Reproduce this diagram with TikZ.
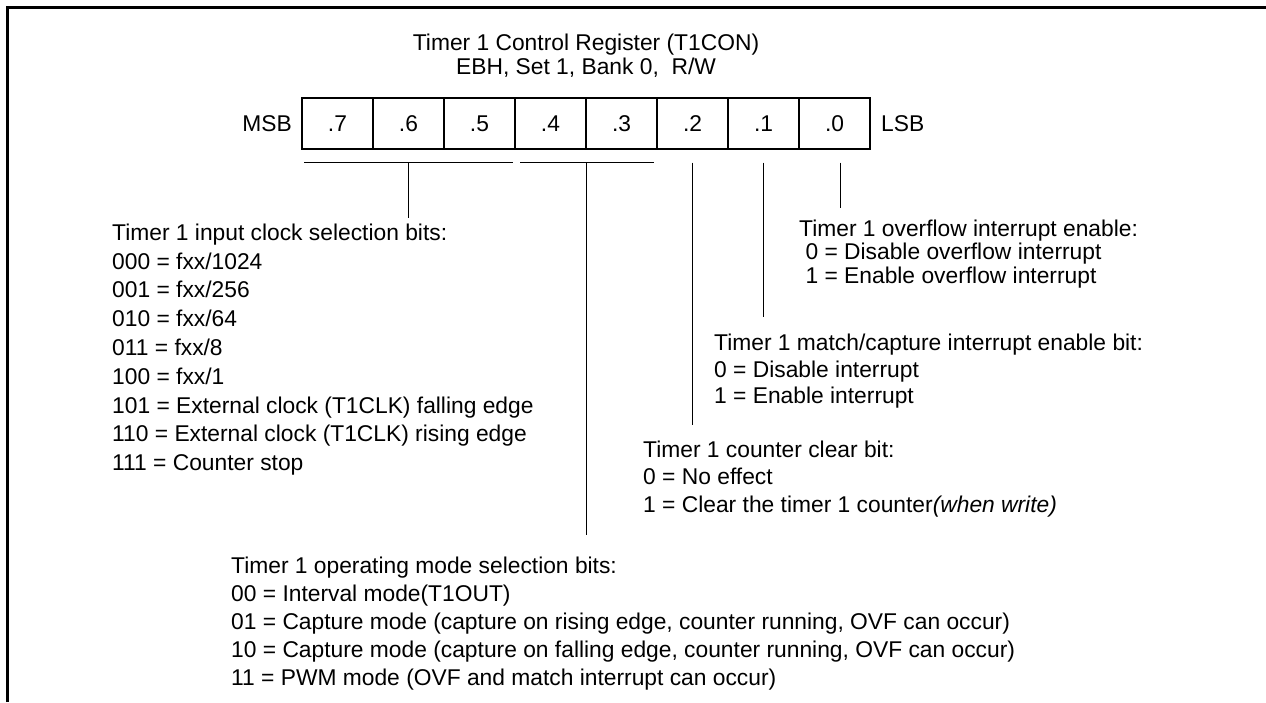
\documentclass[tikz,border=0pt]{standalone}
\usepackage{fontspec}
\setmainfont{Liberation Sans}
\usepackage{tikz}

\tikzset{
  txt/.style={anchor=north west, align=left, inner sep=0pt,
              font=\fontsize{22.8}{28.3}\selectfont},
  tight/.style={font=\fontsize{22.8}{23.5}\selectfont},
  cell/.style={draw, line width=1.3pt, minimum width=71pt, minimum height=51pt,
               inner sep=0pt, font=\fontsize{22.8}{23.5}\selectfont},
  lbl/.style={inner sep=0pt, font=\fontsize{22.8}{23.5}\selectfont},
  stem/.style={line width=1.3pt}
}

\begin{document}
\begin{tikzpicture}[x=1pt, y=-1pt]
    \useasboundingbox (0,0) rectangle (1266,702);

    % frame
    \draw[line width=3pt] (7,702) -- (7,7) -- (1266,7);

    % title
    \node[lbl, tight, align=center, anchor=north] (title) at (586,34)
        {Timer 1 Control Register (T1CON)\\EBH, Set 1, Bank 0,\ \ R/W};

    % register bits
    \node[cell] (b7) at (337.5,123.5) {.7};
    \node[cell] (b6) at (408.5,123.5) {.6};
    \node[cell] (b5) at (479.5,123.5) {.5};
    \node[cell] (b4) at (550.5,123.5) {.4};
    \node[cell] (b3) at (621.5,123.5) {.3};
    \node[cell] (b2) at (692.5,123.5) {.2};
    \node[cell] (b1) at (763.5,123.5) {.1};
    \node[cell] (b0) at (834.5,123.5) {.0};
    \node[lbl, anchor=east] (msb) at (292,124) {MSB};
    \node[lbl, anchor=west] (lsb) at (881,124) {LSB};

    % bit groups
    \coordinate (brk) at (0,162.5);
    \draw[stem] ([xshift=3pt]b7.west |- brk) -- ([xshift=-3pt]b5.east |- brk);
    \draw[stem] ([xshift=6pt]b4.west |- brk) -- ([xshift=-4pt]b3.east |- brk);

    % descriptions
    \node[txt, font=\fontsize{22.8}{28.8}\selectfont] (clk) at (112,223.5)
        {Timer 1 input clock selection bits:\\
        000 = fxx/1024\\
        001 = fxx/256\\
        010 = fxx/64\\
        011 = fxx/8\\
        100 = fxx/1\\
        101 = External clock (T1CLK) falling edge\\
        110 = External clock (T1CLK) rising edge\\
        111 = Counter stop};
    \node[txt, tight] (ovf) at (799,219.5) {Timer 1 overflow interrupt enable:\\
        \ 0 = Disable overflow interrupt\\
        \ 1 = Enable overflow interrupt};
    \node[txt, font=\fontsize{22.8}{26.8}\selectfont] (mcie) at (714,333.5)
        {Timer 1 match/capture interrupt enable bit:\\
        0 = Disable interrupt\\
        1 = Enable interrupt};
    \node[txt, font=\fontsize{22.8}{27.5}\selectfont] (clr) at (643,440.5)
        {Timer 1 counter clear bit:\\
        0 = No effect\\
        1 = Clear the timer 1 counter\textit{(when write)}};
    \node[txt, font=\fontsize{22.8}{28}\selectfont] (mode) at (231,556.5)
        {Timer 1 operating mode selection bits:\\
        00 = Interval mode(T1OUT)\\
        01 = Capture mode (capture on rising edge, counter running, OVF can occur)\\
        10 = Capture mode (capture on falling edge, counter running, OVF can occur)\\
        11 = PWM mode (OVF and match interrupt can occur)};

    % stems
    \draw[stem] (b6 |- brk) -- ([yshift=5.5pt]b6 |- clk.north);
    \draw[stem] (b4.east |- brk) -- ([yshift=21.5pt]b4.east |- mode.north);
    \draw[stem] (b2 |- brk) -- ([yshift=15.5pt]b2 |- clr.north);
    \draw[stem] (b1 |- brk) -- ([yshift=16.5pt]b1 |- mcie.north);
    \draw[stem] ([xshift=6pt]b0 |- brk) -- ([xshift=6pt, yshift=11.5pt]b0 |- ovf.north);
\end{tikzpicture}
\end{document}
